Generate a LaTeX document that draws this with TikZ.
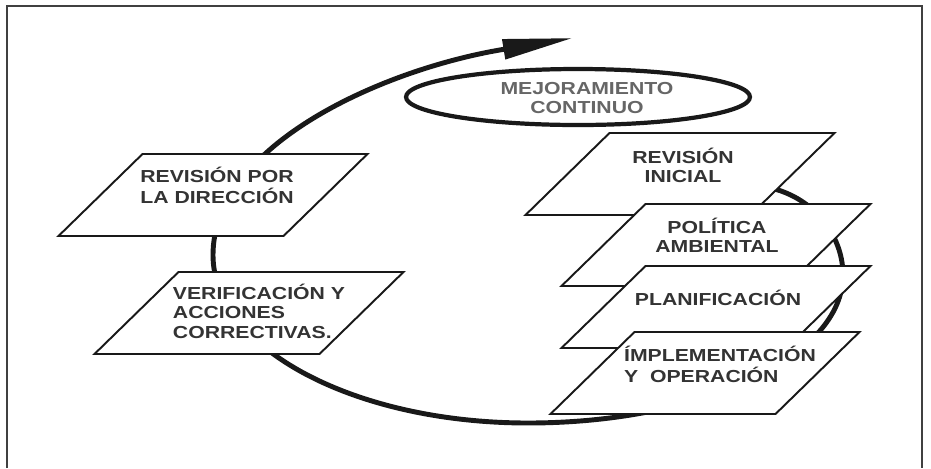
\documentclass[tikz,border=0pt]{standalone}
\usepackage{fontspec}
\usepackage{graphicx}
\setmainfont{Liberation Sans}
\usetikzlibrary{arrows.meta,positioning}
\newcommand{\widetext}[2][l]{\scalebox{1.22}[1]{\begin{tabular}{@{}#1@{}}#2\end{tabular}}}
\newcommand{\stagebox}[2]{%
	\filldraw[stageline] (#1-154.5,#2+41) -- ++(225,0) -- ++(84,-82) -- ++(-225,0) -- cycle;}
\tikzset{
	stageline/.style={draw=black!90, line width=1.1pt, fill=white},
	stagetext/.style={inner sep=0pt, font=\bfseries\fontsize{9.9}{11}\selectfont, text=black!80},
	cycleline/.style={draw=black!90, line width=2.8pt},
}

\begin{document}
\begin{tikzpicture}[x=0.02cm,y=-0.02cm]
	\useasboundingbox (0,0) rectangle (931,468);
	\draw[black!75, line width=0.6pt] (7,468) -- (7,6) -- (922,6) -- (922,468);
	% mejoramiento continuo
	\draw[black!90, line width=2.4pt] (578,97) ellipse [x radius=172, y radius=28];
	\node[stagetext, text=black!60] (mejora) at (587,100) {\widetext[c]{MEJORAMIENTO\\CONTINUO}};
	\coordinate (loopstart) at (745,185);
	\coordinate (looptip) at (573,38);
	\draw[cycleline, -{Triangle[length=40pt,width=11pt]}] (loopstart)
		.. controls (805,185) and (843,230) .. (843,275)
		.. controls (843,357) and (702,423) .. (528,423)
		.. controls (354,423) and (213,348) .. (213,255)
		.. controls (213,145) and (383,69) .. (looptip);
	% stages
	\stagebox{213}{195}
	\node[stagetext] (direccion) at (217,188) {\widetext{REVISIÓN POR\\LA DIRECCIÓN}};
	\stagebox{249}{313}
	\node[stagetext] (verificacion) at (259,314) {\widetext{VERIFICACIÓN Y\\ACCIONES\\CORRECTIVAS.}};
	\stagebox{680}{174}
	\node[stagetext] (inicial) at (683,168) {\widetext[c]{REVISIÓN\\INICIAL}};
	\stagebox{716}{245}
	\node[stagetext] (politica) at (717,238) {\widetext[c]{POLÍTICA\\AMBIENTAL}};
	\stagebox{716}{307}
	\node[stagetext] (planificacion) at (718,301) {\widetext{PLANIFICACIÓN}};
	\stagebox{705}{373}
	\node[stagetext] (implementacion) at (720,367) {\widetext{ÍMPLEMENTACIÓN\\Y~~OPERACIÓN}};
\end{tikzpicture}
\end{document}
